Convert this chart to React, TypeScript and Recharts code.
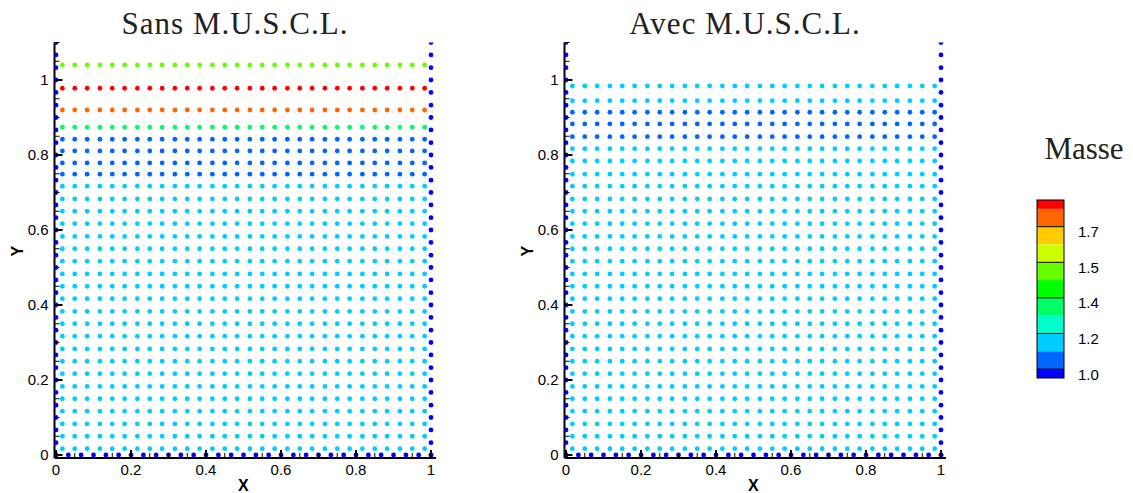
import React from "react";
import { ScatterChart, Scatter, XAxis, YAxis } from "recharts";

// columns of interior particles (x)
const xCols = [
  0.017, 0.05, 0.083, 0.117, 0.15, 0.183, 0.217, 0.25, 0.283, 0.317,
  0.35, 0.383, 0.417, 0.45, 0.483, 0.517, 0.55, 0.583, 0.617, 0.65,
  0.683, 0.717, 0.75, 0.783, 0.817, 0.85, 0.883, 0.917, 0.95, 0.983,
];

// rows (y) grouped by colour class
const lowerRows = [
  0.017, 0.05, 0.083, 0.117, 0.15, 0.183, 0.217, 0.25, 0.283, 0.317, 0.35,
  0.383, 0.417, 0.45, 0.483, 0.517, 0.55, 0.583, 0.617, 0.65, 0.683, 0.717,
];

// Sans M.U.S.C.L.
const leftCyanRows = lowerRows;
const leftBlueRows = [0.749, 0.779, 0.811, 0.842];
const leftGreenRows = [0.874];
const leftOrangeRows = [0.92];
const leftRedRows = [0.978];
const leftLimeRows = [1.04];

// Avec M.U.S.C.L.
const rightCyanRows = [...lowerRows, 0.749, 0.784, 0.817, 0.945, 0.984];
const rightBlueRows = [0.849, 0.883, 0.914];

// wall particles
const wallY = [
  0, 0.033, 0.067, 0.1, 0.133, 0.167, 0.2, 0.233, 0.267, 0.3, 0.333, 0.367,
  0.4, 0.433, 0.467, 0.5, 0.533, 0.567, 0.6, 0.633, 0.667, 0.7, 0.733, 0.767,
  0.8, 0.833, 0.867, 0.9, 0.933, 0.967, 1, 1.033, 1.067, 1.1,
];
const wallX = [
  0, 0.033, 0.067, 0.1, 0.133, 0.167, 0.2, 0.233, 0.267, 0.3, 0.333, 0.367,
  0.4, 0.433, 0.467, 0.5, 0.533, 0.567, 0.6, 0.633, 0.667, 0.7, 0.733, 0.767,
  0.8, 0.833, 0.867, 0.9, 0.933, 0.967, 1,
];

const majorTicks = [0, 0.2, 0.4, 0.6, 0.8, 1];
const xMinorTicks = [0.05, 0.1, 0.15, 0.25, 0.3, 0.35, 0.45, 0.5, 0.55, 0.65, 0.7, 0.75, 0.85, 0.9, 0.95];
const yMinorTicks = [...xMinorTicks, 1.05, 1.1];

const MASS_COLORS = [
  "#ff0000", "#ff6600", "#ffcc00", "#ccff00", "#66ff00", "#00ff00",
  "#00ff66", "#00ffcc", "#00ccff", "#0066ff", "#0000ff",
];
const MASS_LABELS = ["1.7", "1.5", "1.4", "1.2", "1.0"];

const C_LIME = "#66ff00";
const C_RED = "#ff0000";
const C_ORANGE = "#ff6600";
const C_GREEN = "#00ff66";
const C_BLUE = "#0066ff";
const C_CYAN = "#00ccff";
const C_WALL = "#0000ff";

const grid = (rows: number[]) => rows.flatMap((y) => xCols.map((x) => ({ x, y })));
const walls = [
  ...wallY.map((y) => ({ x: 0, y })),
  ...wallY.map((y) => ({ x: 1, y })),
  ...wallX.map((x) => ({ x, y: 0 })),
];

const leftSeries = [
  { color: C_CYAN, data: grid(leftCyanRows) },
  { color: C_BLUE, data: grid(leftBlueRows) },
  { color: C_GREEN, data: grid(leftGreenRows) },
  { color: C_ORANGE, data: grid(leftOrangeRows) },
  { color: C_RED, data: grid(leftRedRows) },
  { color: C_LIME, data: grid(leftLimeRows) },
  { color: C_WALL, data: walls },
];
const rightSeries = [
  { color: C_CYAN, data: grid(rightCyanRows) },
  { color: C_BLUE, data: grid(rightBlueRows) },
  { color: C_WALL, data: walls },
];

const SANS = "'Liberation Sans', Arial, sans-serif";
const SERIF = "'Liberation Serif', 'Times New Roman', serif";

const fmt = (v: number) => String(v);
const isMajor = (v: number) => majorTicks.includes(v);

const XTick = (props: any) => {
  const { x, y, payload } = props;
  const major = isMajor(payload.value);
  return (
    <g>
      <line x1={x} x2={x} y1={y} y2={y - (major ? 8 : 5)} stroke="#000" strokeWidth={major ? 2 : 1} />
      {major && (
        <text x={x} y={y + 17} textAnchor="middle" fontSize={15} fontFamily={SANS} fill="#000">
          {fmt(payload.value)}
        </text>
      )}
    </g>
  );
};

const YTick = (props: any) => {
  const { x, y, payload } = props;
  const major = isMajor(payload.value);
  return (
    <g>
      <line x1={x} x2={x + (major ? 8 : 5)} y1={y} y2={y} stroke="#000" strokeWidth={major ? 2 : 1} />
      {major && (
        <text x={x - 6} y={y} dy="0.36em" textAnchor="end" fontSize={15} fontFamily={SANS} fill="#000">
          {fmt(payload.value)}
        </text>
      )}
    </g>
  );
};

const XLabel = (props: any) => {
  const vb = props.viewBox;
  return (
    <text x={vb.x + vb.width / 2 - 2} y={vb.y + 33} textAnchor="middle" fontSize={16} fontWeight="bold" fontFamily={SANS}>
      X
    </text>
  );
};

const YLabel = (props: any) => {
  const vb = props.viewBox;
  const cx = vb.x + 17;
  const cy = vb.y + vb.height / 2 + 1;
  return (
    <text x={cx} y={cy} dy="0.36em" textAnchor="middle" fontSize={16} fontWeight="bold" fontFamily={SANS} transform={`rotate(-90, ${cx}, ${cy})`}>
      Y
    </text>
  );
};

function Panel({ title, series, left }: { title: string; series: { color: string; data: { x: number; y: number }[] }[]; left: number }) {
  return (
    <div style={{ position: "absolute", left, top: 0, width: 470, height: 493 }}>
      <div
        style={{
          position: "absolute",
          left: 0,
          top: 5,
          width: 470,
          textAlign: "center",
          fontFamily: SERIF,
          fontSize: 31,
          letterSpacing: 1,
          lineHeight: "38px",
          color: "#222",
        }}
      >
        {title}
      </div>
      <div style={{ position: "absolute", left: 0, top: 0 }}>
        <ScatterChart width={460} height={493} margin={{ top: 42.5, right: 24, bottom: 0, left: 0 }}>
          <XAxis
            type="number"
            dataKey="x"
            domain={[-0.004, 1.0133]}
            allowDataOverflow
            ticks={[...majorTicks, ...xMinorTicks]}
            interval={0}
            tickSize={0}
            tickMargin={0}
            tickLine={false}
            tick={XTick}
            axisLine={{ stroke: "#000", strokeWidth: 2 }}
            height={35}
            label={XLabel}
          />
          <YAxis
            type="number"
            dataKey="y"
            domain={[-0.008, 1.1]}
            allowDataOverflow
            ticks={[...majorTicks, ...yMinorTicks]}
            interval={0}
            tickSize={0}
            tickMargin={0}
            tickLine={false}
            tick={YTick}
            axisLine={{ stroke: "#000", strokeWidth: 2 }}
            width={54.5}
            label={YLabel}
          />
          {series.map((s, i) => (
            <Scatter
              key={i}
              data={s.data}
              fill={s.color}
              isAnimationActive={false}
              shape={(p: any) => <circle cx={p.cx} cy={p.cy} r={2.4} fill={s.color} />}
            />
          ))}
        </ScatterChart>
      </div>
    </div>
  );
}

function ColorBar() {
  const top = 200;
  const h = 17.8;
  const bx = 1037;
  const bw = 27;
  const bandY = (i: number) => (i === 0 ? top : top + h / 2 + (i - 1) * h);
  const bandH = (i: number) => (i === 0 || i === MASS_COLORS.length - 1 ? h / 2 : h);
  const total = h * (MASS_COLORS.length - 1);
  return (
    <svg width={1133} height={493} style={{ position: "absolute", left: 0, top: 0, pointerEvents: "none" }}>
      <text x={1084} y={159} textAnchor="middle" fontFamily={SERIF} fontSize={31} fill="#222">
        Masse
      </text>
      {MASS_COLORS.map((c, i) => (
        <rect key={c} x={bx} y={bandY(i)} width={bw} height={bandH(i)} fill={c} />
      ))}
      {MASS_LABELS.map((lab, i) => {
        const yy = bandY(2 * i + 2);
        return (
          <g key={lab}>
            <line x1={bx} x2={bx + bw} y1={yy} y2={yy} stroke="#000" strokeWidth={1} />
            <text x={1078} y={yy + 5} dy="0.36em" fontFamily={SANS} fontSize={15} fill="#000">
              {lab}
            </text>
          </g>
        );
      })}
      <rect x={bx} y={top} width={bw} height={total} fill="none" stroke="#000" strokeWidth={1} />
    </svg>
  );
}

export default function App() {
  return (
    <div style={{ position: "absolute", left: 0, top: 0, width: 1133, height: 493, background: "#fff" }}>
      <Panel title="Sans M.U.S.C.L." series={leftSeries} left={0} />
      <Panel title="Avec M.U.S.C.L." series={rightSeries} left={510} />
      <ColorBar />
    </div>
  );
}
